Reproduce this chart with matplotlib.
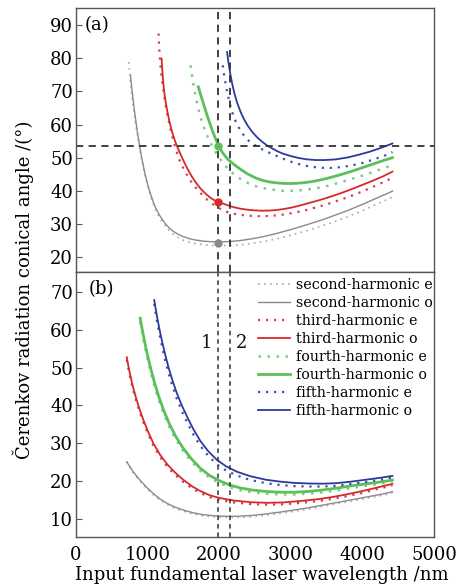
import matplotlib
matplotlib.use("Agg")
import matplotlib.pyplot as plt

plt.rcParams['font.family'] = ['DejaVu Serif']

# ---------------- panel (a) data ----------------
a_gray_o_x = [764, 780, 795, 811, 830, 850, 870, 890, 910, 930, 955, 980, 1000, 1030, 1060, 1090, 1120, 1160, 1200, 1250, 1301, 1360, 1430, 1500, 1580, 1660, 1750, 1850, 1950, 2050, 2150, 2300, 2450, 2600, 2800, 3000, 3200, 3419, 3600, 3800, 4000, 4200, 4420]
a_gray_o_y = [74.9, 71.5, 68.6, 65.7, 62.5, 59.4, 56.5, 53.8, 51.3, 49.0, 46.4, 44.0, 42.3, 40.0, 38.0, 36.2, 34.7, 33.0, 31.6, 30.1, 28.9, 27.8, 26.9, 26.2, 25.6, 25.2, 24.9, 24.7, 24.6, 24.6, 24.7, 25.0, 25.5, 26.1, 27.1, 28.3, 29.6, 31.1, 32.5, 34.1, 35.9, 37.8, 39.9]
a_gray_e_x = [741, 750, 764, 780, 795, 811, 830, 850, 870, 890, 910, 930, 955, 980, 1000, 1030, 1060, 1090, 1120, 1160, 1200, 1250, 1301, 1360, 1430, 1500, 1580, 1660, 1750, 1850, 1950, 2050, 2150, 2300, 2450, 2600, 2800, 3000, 3200, 3419, 3600, 3800, 4000, 4200, 4420]
a_gray_e_y = [78.9, 76.3, 73.0, 69.8, 67.0, 64.3, 61.3, 58.4, 55.7, 53.2, 50.8, 48.5, 45.9, 43.6, 41.9, 39.5, 37.5, 35.7, 34.1, 32.4, 30.9, 29.4, 28.1, 26.9, 25.9, 25.1, 24.5, 24.1, 23.8, 23.6, 23.5, 23.5, 23.5, 23.7, 24.1, 24.6, 25.5, 26.6, 27.8, 29.3, 30.6, 32.2, 34.0, 36.0, 38.1]

a_red_o_x = [1199, 1206, 1214, 1222, 1231, 1250, 1270, 1301, 1330, 1360, 1390, 1418, 1460, 1500, 1540, 1581, 1630, 1680, 1730, 1767, 1820, 1880, 1940, 2000, 2100, 2200, 2300, 2400, 2500, 2600, 2700, 2800, 2900, 3000, 3100, 3200, 3300, 3419, 3550, 3700, 3850, 4000, 4150, 4300, 4420]
a_red_o_y = [79.9, 77.2, 74.8, 72.7, 70.6, 67.6, 65.0, 61.6, 59.0, 56.7, 54.8, 53.3, 51.2, 49.3, 47.5, 45.8, 44.0, 42.4, 41.0, 40.1, 39.0, 37.9, 37.1, 36.6, 35.8, 35.1, 34.6, 34.3, 34.1, 34.0, 34.05, 34.2, 34.5, 34.9, 35.4, 36.0, 36.6, 37.3, 38.2, 39.3, 40.5, 41.8, 43.1, 44.5, 45.8]
a_red_e_x = [1156, 1162, 1170, 1180, 1193, 1208, 1230, 1254, 1290, 1334, 1390, 1450, 1520, 1604, 1700, 1814, 1930, 2047, 2141, 2250, 2400, 2550, 2700, 2850, 3000, 3200, 3419, 3600, 3800, 4000, 4200, 4420]
a_red_e_y = [87.5, 84.6, 81.4, 78.6, 75.6, 72.8, 69.3, 66.0, 61.8, 57.5, 53.0, 49.2, 46.0, 43.0, 40.3, 37.7, 35.7, 34.2, 33.4, 32.9, 32.5, 32.35, 32.4, 32.7, 33.2, 34.1, 35.4, 36.6, 38.1, 39.8, 41.7, 43.9]

a_green_o_x = [1711, 1740, 1767, 1800, 1837, 1870, 1907, 1950, 2001, 2050, 2100, 2141, 2206, 2300, 2400, 2500, 2600, 2700, 2800, 2900, 3000, 3100, 3200, 3300, 3419, 3550, 3700, 3850, 4000, 4150, 4300, 4420]
a_green_o_y = [71.4, 69.3, 67.4, 65.1, 62.6, 60.5, 58.2, 55.8, 53.3, 51.5, 50.1, 49.2, 48.0, 46.5, 45.1, 44.0, 43.2, 42.7, 42.4, 42.25, 42.2, 42.3, 42.5, 42.8, 43.3, 44.0, 44.9, 45.9, 47.0, 48.1, 49.2, 50.0]
a_green_e_x = [1604, 1616, 1630, 1651, 1675, 1698, 1720, 1744, 1770, 1800, 1830, 1861, 1900, 1931, 1965, 2001, 2050, 2094, 2150, 2220, 2300, 2400, 2500, 2600, 2700, 2800, 2900, 3000, 3100, 3200, 3300, 3419, 3550, 3700, 3850, 4000, 4150, 4300, 4420]
a_green_e_y = [77.9, 75.9, 73.9, 71.0, 68.3, 66.0, 64.0, 62.1, 60.3, 58.5, 56.9, 55.4, 53.7, 52.5, 51.3, 50.1, 48.6, 47.4, 46.1, 44.8, 43.6, 42.4, 41.5, 40.9, 40.5, 40.2, 40.0, 40.0, 40.1, 40.3, 40.6, 41.0, 41.7, 42.6, 43.6, 44.6, 45.7, 46.9, 47.7]

a_blue_o_x = [2113, 2122, 2136, 2155, 2183, 2215, 2253, 2300, 2346, 2400, 2463, 2530, 2603, 2670, 2743, 2810, 2883, 3000, 3115, 3230, 3349, 3480, 3629, 3800, 3950, 4100, 4250, 4420]
a_blue_o_y = [81.9, 80.3, 78.2, 75.6, 72.4, 69.4, 66.6, 63.9, 61.7, 59.7, 57.8, 56.2, 54.8, 53.7, 52.8, 52.0, 51.3, 50.5, 49.9, 49.5, 49.3, 49.3, 49.5, 50.1, 50.9, 51.8, 52.9, 54.3]
a_blue_e_x = [2052, 2068, 2090, 2112, 2136, 2170, 2206, 2250, 2299, 2355, 2416, 2500, 2579, 2660, 2743, 2830, 2929, 3040, 3163, 3280, 3395, 3500, 3605, 3750, 3900, 4050, 4200, 4320, 4420]
a_blue_e_y = [77.9, 75.4, 72.6, 70.0, 67.6, 64.7, 62.3, 60.1, 58.2, 56.5, 55.1, 53.8, 52.8, 51.9, 51.1, 50.3, 49.4, 48.5, 47.8, 47.3, 47.0, 46.9, 46.95, 47.3, 47.9, 48.7, 49.8, 50.7, 51.7]

a_mark_x = [1990, 1990, 1990]
a_mark_y = [24.2, 36.6, 53.5]
a_hline = 53.5

# ---------------- panel (b) data ----------------
b_gray_x = [713, 750, 800, 860, 930, 1000, 1080, 1170, 1270, 1380, 1500, 1630, 1770, 1920, 2080, 2250, 2450, 2650, 2850, 3050, 3250, 3450, 3650, 3850, 4050, 4250, 4420]
b_gray_o_y = [25.1, 24.0, 22.6, 21.1, 19.6, 18.2, 16.8, 15.4, 14.2, 13.2, 12.4, 11.7, 11.2, 10.9, 10.75, 10.75, 10.95, 11.35, 11.85, 12.4, 13.0, 13.7, 14.4, 15.1, 15.8, 16.5, 17.2]
b_gray_e_y = [25.2, 23.8, 22.3, 20.8, 19.3, 17.9, 16.5, 15.1, 13.9, 12.9, 12.1, 11.4, 10.9, 10.6, 10.45, 10.45, 10.6, 11.0, 11.5, 12.05, 12.65, 13.35, 14.05, 14.75, 15.45, 16.15, 16.85]

b_red_x = [713, 730, 752, 778, 808, 845, 890, 940, 1000, 1086, 1180, 1280, 1380, 1500, 1620, 1739, 1870, 2000, 2206, 2450, 2673, 2900, 3150, 3400, 3605, 3800, 4000, 4200, 4420]
b_red_o_y = [52.7, 50.9, 48.8, 46.6, 44.3, 41.8, 39.1, 36.4, 33.5, 29.9, 26.9, 24.4, 22.4, 20.4, 18.7, 17.4, 16.3, 15.6, 14.9, 14.45, 14.3, 14.4, 14.8, 15.3, 15.9, 16.6, 17.4, 18.3, 19.3]
b_red_e_y = [52.0, 50.2, 48.1, 45.9, 43.6, 41.1, 38.4, 35.7, 32.9, 29.3, 26.3, 23.8, 21.8, 19.8, 18.2, 16.9, 15.8, 15.1, 14.4, 13.95, 13.8, 13.9, 14.3, 14.8, 15.4, 16.1, 16.9, 17.9, 18.9]

b_green_x = [900, 920, 945, 975, 1010, 1050, 1100, 1160, 1230, 1310, 1400, 1500, 1610, 1740, 1870, 1996, 2150, 2300, 2450, 2650, 2850, 3050, 3250, 3450, 3650, 3850, 4050, 4250, 4420]
b_green_o_y = [63.0, 60.9, 58.4, 55.6, 52.6, 49.5, 46.0, 42.3, 38.6, 35.0, 31.7, 28.7, 26.0, 23.4, 21.5, 20.2, 19.0, 18.2, 17.7, 17.3, 17.1, 17.1, 17.3, 17.7, 18.2, 18.8, 19.3, 19.8, 20.3]
b_green_e_y = [62.0, 59.9, 57.4, 54.6, 51.6, 48.5, 45.0, 41.4, 37.7, 34.2, 30.9, 28.0, 25.3, 22.8, 20.9, 19.6, 18.4, 17.6, 17.1, 16.7, 16.5, 16.5, 16.7, 17.1, 17.6, 18.2, 18.8, 19.3, 19.8]

b_blue_x = [1096, 1115, 1140, 1170, 1205, 1250, 1296, 1350, 1410, 1483, 1560, 1640, 1740, 1850, 1973, 2100, 2250, 2440, 2650, 2850, 3050, 3250, 3450, 3650, 3850, 4050, 4250, 4420]
b_blue_o_y = [67.8, 65.6, 62.9, 60.0, 56.9, 53.3, 50.0, 46.6, 43.3, 39.9, 36.8, 33.8, 30.6, 27.9, 25.6, 23.9, 22.5, 21.3, 20.4, 19.9, 19.55, 19.4, 19.35, 19.5, 19.9, 20.4, 20.9, 21.4]
b_blue_e_y = [66.8, 64.5, 61.7, 58.7, 55.5, 51.8, 48.5, 45.1, 41.8, 38.4, 35.3, 32.4, 29.3, 26.7, 24.4, 22.8, 21.5, 20.3, 19.5, 19.0, 18.7, 18.6, 18.6, 18.8, 19.3, 19.8, 20.4, 21.0]

vlines = [1990, 2150]
vlabels = ["1", "2"]
vlabel_x = [1830, 2320]
vlabel_y = 56.5

labels = ["second-harmonic e", "second-harmonic o", "third-harmonic e", "third-harmonic o",
          "fourth-harmonic e", "fourth-harmonic o", "fifth-harmonic e", "fifth-harmonic o"]

xticks = [0, 1000, 2000, 3000, 4000, 5000]
a_yticks = [20, 30, 40, 50, 60, 70, 80, 90]
b_yticks = [10, 20, 30, 40, 50, 60, 70]

# ---------------- styling ----------------
c_gray, c_gray_e = '#8a8a8a', '#a8a8a8'
c_red, c_red_e = '#d8282a', '#c8405a'
c_green, c_green_e = '#5cc05a', '#7ccc80'
c_blue, c_blue_e = '#2c3a9c', '#4050b0'
dot = (0, (1, 2.6))

fig = plt.figure(figsize=(4.68, 5.88), dpi=100)
L, W = 75.7 / 468, (434 - 75.7) / 468
axa = fig.add_axes([L, 1 - 272 / 588, W, (272 - 8) / 588])
axb = fig.add_axes([L, 1 - 537.3 / 588, W, (537.3 - 272) / 588])

def series(ax, d):
    (gex, gey, gx, gy, rex, rey, rx, ry, grex, grey, grx, gry, bex, bey, bx, by) = d
    h = []
    h += ax.plot(gex, gey, color=c_gray_e, lw=1.2, ls=dot)
    h += ax.plot(gx, gy, color=c_gray, lw=1.0)
    h += ax.plot(rex, rey, color=c_red_e, lw=1.6, ls=dot)
    h += ax.plot(rx, ry, color=c_red, lw=1.3)
    h += ax.plot(grex, grey, color=c_green_e, lw=1.8, ls=dot)
    h += ax.plot(grx, gry, color=c_green, lw=2.0)
    h += ax.plot(bex, bey, color=c_blue_e, lw=1.6, ls=dot)
    h += ax.plot(bx, by, color=c_blue, lw=1.3)
    return h

series(axa, (a_gray_e_x, a_gray_e_y, a_gray_o_x, a_gray_o_y, a_red_e_x, a_red_e_y, a_red_o_x, a_red_o_y,
             a_green_e_x, a_green_e_y, a_green_o_x, a_green_o_y, a_blue_e_x, a_blue_e_y, a_blue_o_x, a_blue_o_y))
hb = series(axb, (b_gray_x, b_gray_e_y, b_gray_x, b_gray_o_y, b_red_x, b_red_e_y, b_red_x, b_red_o_y,
                  b_green_x, b_green_e_y, b_green_x, b_green_o_y, b_blue_x, b_blue_e_y, b_blue_x, b_blue_o_y))

for xv in vlines:
    axa.axvline(xv, color='#333333', lw=1.3, ls=(0, (4, 3)))
    axb.axvline(xv, color='#333333', lw=1.1, ls=(0, (3, 2.5)))
axa.axhline(a_hline, color='#333333', lw=1.3, ls=(0, (4, 3)))
for mx, my, mc in zip(a_mark_x, a_mark_y, [c_gray, c_red, c_green]):
    axa.plot([mx], [my], 'o', color=mc, ms=5, zorder=5)

for t, tx in zip(vlabels, vlabel_x):
    axb.text(tx, vlabel_y, t, fontsize=13, ha='center', va='center', color='#111111')

axa.set_xlim(0, 5000)
axb.set_xlim(0, 5000)
axa.set_ylim(15.5, 95.2)
axb.set_ylim(5.2, 75.2)
axa.set_yticks(a_yticks)
axb.set_yticks(b_yticks)
axb.set_xticks(xticks)
axa.set_xticks(xticks)
axa.tick_params(axis='x', labelbottom=False, length=0)

for ax in (axa, axb):
    for s in ax.spines.values():
        s.set_color('#555555')
        s.set_linewidth(1.0)
    ax.tick_params(axis='y', direction='in', length=4, labelsize=13, pad=2, color='#555555')
axb.tick_params(axis='x', direction='in', length=0, labelsize=13, pad=6)

axa.text(0.025, 0.935, "(a)", transform=axa.transAxes, fontsize=13, ha='left', va='center')
axb.text(0.035, 0.935, "(b)", transform=axb.transAxes, fontsize=13, ha='left', va='center')

axb.legend(hb, labels, loc='upper left', bbox_to_anchor=(0.509, 0.978), frameon=False,
           fontsize=10.3, borderpad=0, borderaxespad=0, handlelength=2.25, handletextpad=0.4,
           labelspacing=0.28)

fig.text(0.56, 1 - 575 / 588, "Input fundamental laser wavelength /nm", ha='center', va='center', fontsize=13)
fig.text(0.05, 1 - 290 / 588, "Čerenkov radiation conical angle /(°)", ha='center', va='center',
         rotation=90, fontsize=13)

fig.savefig("out.png", dpi=100)
